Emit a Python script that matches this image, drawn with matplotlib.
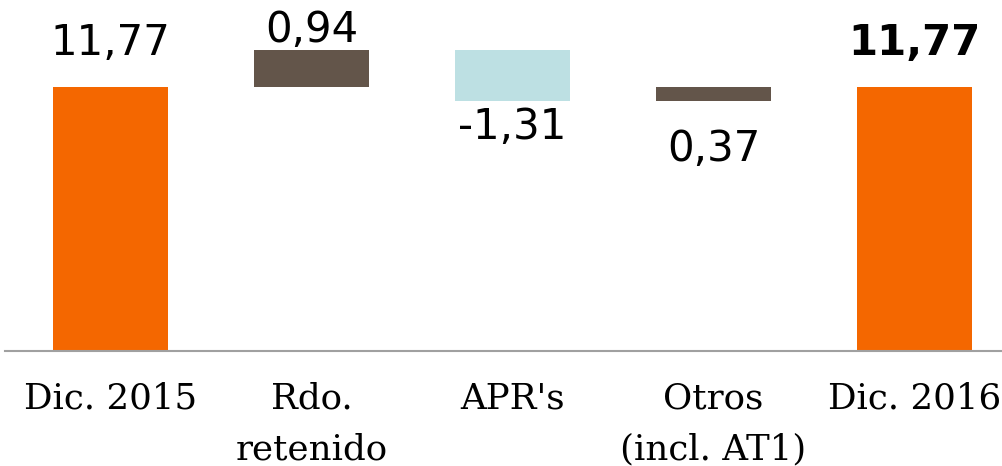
import matplotlib
matplotlib.use("Agg")
import matplotlib.pyplot as plt

categories = ["Dic. 2015", "Rdo.\nretenido", "APR's", "Otros\n(incl. AT1)", "Dic. 2016"]
values = [11.77, 0.94, -1.31, 0.37, 11.77]
labels = ["11,77", "0,94", "-1,31", "0,37", "11,77"]
kinds = ["total", "delta", "delta", "delta", "total"]
colors = ["#F46700", "#63554A", "#BDE0E3", "#63554A", "#F46700"]

# label placement (points offset from bar top / bottom)
label_side = ["top", "top", "bottom", "bottom", "top"]
label_off = [22.8, 5.8, -27.4, -43.2, 22.8]
label_bold = [False, False, False, False, True]

YMIN = 5.06
YMAX = 13.98

fig = plt.figure(figsize=(10.02, 4.66), dpi=100)
ax = fig.add_axes([5 / 1002, 115.5 / 466, 997 / 1002, 350.5 / 466])

bottoms, heights = [], []
running = 0.0
for v, k in zip(values, kinds):
    if k == "total":
        bottoms.append(YMIN)
        heights.append(v - YMIN)
        running = v
    else:
        lo = running + min(v, 0)
        bottoms.append(lo)
        heights.append(abs(v))
        running += v

x = list(range(len(categories)))
ax.bar(x, heights, bottom=bottoms, width=0.572, color=colors, edgecolor="none", zorder=2)

for i in x:
    top = bottoms[i] + heights[i]
    yref = top if label_side[i] == "top" else bottoms[i]
    ax.annotate(labels[i], (i, yref), xytext=(0, label_off[i]), textcoords="offset points",
                ha="center", va="baseline", fontsize=30.2,
                fontweight="bold" if label_bold[i] else "normal",
                family="DejaVu Sans", color="#000000")

ax.set_xlim(-0.525, 4.435)
ax.set_ylim(YMIN, YMAX)
for s in ["top", "right", "left"]:
    ax.spines[s].set_visible(False)
ax.spines["bottom"].set_color("#A0A0A0")
ax.spines["bottom"].set_linewidth(1.5)
ax.set_yticks([])
ax.set_xticks(x)
ax.set_xticklabels(categories, fontsize=25.7, family="DejaVu Serif", linespacing=1.65)
ax.tick_params(axis="x", length=0, pad=22)

fig.savefig("out.png", dpi=100)
